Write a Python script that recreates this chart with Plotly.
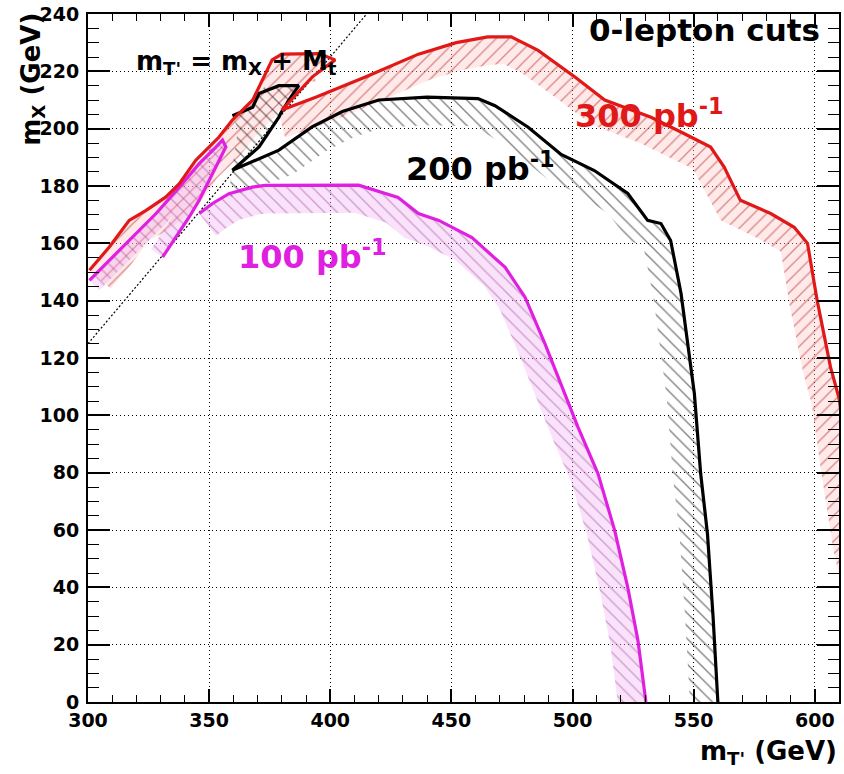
import numpy as np
import plotly.graph_objects as go

# ---------------- data ----------------
X_RANGE = [300, 610]
Y_RANGE = [0, 240]
X_DTICK, X_MINOR = 50, 10
Y_DTICK, Y_MINOR = 20, 5

# 300 pb^-1 (red) contour (continues just past the right frame)
red_x = [300.6, 308.8, 317, 324, 332.2, 337.7, 344.5, 354, 359.6, 368, 376, 380, 395.3, 402,
         392.5, 384, 380, 394, 414.5, 436.4, 452, 465, 474.7, 485.8, 501, 513.3, 532.4, 546,
         557, 562.6, 569.3, 581.8, 591.5, 597, 601, 606.5, 610, 614, 619, 627]
red_y = [150.6, 158.7, 168, 171.5, 176.2, 180.8, 189, 197, 203, 210, 224, 226, 226.2, 224,
         218, 210, 206.5, 211, 218, 226, 230, 232, 232, 227.3, 218, 210, 204, 198.3,
         193.6, 186.6, 175, 170.4, 165.6, 160, 140, 116.8, 106, 82, 55, 25]

# 200 pb^-1 (black) contour
blk_x = [359.6, 368, 370.6, 378.8, 387, 382.9, 379.5, 378.8, 370.6, 359.6, 378.8, 392.5, 405,
         420, 440, 461, 468, 481.7, 495.3, 509, 522.8, 531, 536.5, 540.5, 544.8, 550.3,
         552.9, 555.7, 558, 560]
blk_y = [204.5, 207.5, 212.3, 215, 215, 210, 205.3, 204, 193.6, 185.5, 192.5, 200.6, 206,
         210, 211, 210.5, 208, 200.5, 191, 185.4, 177.4, 168, 166.9, 161, 142.5, 107.6,
         79.7, 58.7, 30, 0]

# 100 pb^-1 (magenta) contour: loop along the diagonal, then the main arc
mag_loop_x = [300.6, 308.8, 318.4, 328.1, 337.7, 345.9, 352.8, 355.5, 356.9, 354.1, 350,
              345.9, 341.8, 336.3, 330.8]
mag_loop_y = [147.1, 154.1, 162.2, 170.4, 179.6, 187.8, 193.6, 196, 193.6, 189, 182,
              175, 169.2, 162.2, 155.2]
mag_arc_x = [345.9, 351.4, 358.2, 367.8, 373, 392, 411.7, 428, 436.4, 444.8, 458.5, 472.2,
             480.4, 488.6, 495.3, 502.3, 510.5, 517.4, 522.8, 527, 530.3]
mag_arc_y = [170.4, 173.9, 177.3, 179.6, 180.2, 180.3, 180.3, 176, 170.4, 168, 162, 151.6,
             141.2, 125, 111, 95.8, 79.7, 59.9, 40, 21.5, 0]

# kinematic line m_T' = m_X + M_t
M_TOP = 175.0
diag_x = [300, 415]

# ---------------- styling ----------------
RED = "#e01818"
BLACK = "#000000"
MAG = "#e020e0"
FONT = "DejaVu Sans"

L, R, T, B = 88, 3, 14, 72
W, H = 844, 774
PW, PH = W - L - R, H - T - B
sx = PW / (X_RANGE[1] - X_RANGE[0])
sy = PH / (Y_RANGE[1] - Y_RANGE[0])


def band(xs, ys, width_px):
    """Hatched band on the right-hand side of the contour (in screen space)."""
    px = (np.asarray(xs, float) - X_RANGE[0]) * sx
    py = (np.asarray(ys, float) - Y_RANGE[0]) * sy
    n = len(px)
    ox, oy = np.zeros(n), np.zeros(n)
    for i in range(n):
        a = max(i - 1, 0)
        b = min(i + 1, n - 1)
        tx, ty = px[b] - px[a], py[b] - py[a]
        nrm = np.hypot(tx, ty) or 1.0
        ox[i] = px[i] + ty / nrm * width_px
        oy[i] = py[i] - tx / nrm * width_px
    bx = np.concatenate([px, ox[::-1], px[:1]]) / sx + X_RANGE[0]
    by = np.concatenate([py, oy[::-1], py[:1]]) / sy + Y_RANGE[0]
    return bx, by


fig = go.Figure()


def add_band(xs, ys, w, shape, fg, bg, sol=0.14):
    bx, by = band(xs, ys, w)
    fig.add_trace(go.Scatter(
        x=bx, y=by, mode="lines", line=dict(width=0, color="rgba(0,0,0,0)"),
        fill="toself", fillcolor=bg,
        fillpattern=dict(shape=shape, fgcolor=fg, bgcolor=bg, size=9, solidity=sol),
        hoverinfo="skip", showlegend=False))


add_band(red_x, red_y, 28, "/", "#b02020", "rgba(255,190,190,0.35)")
add_band(blk_x, blk_y, 28, "\\", BLACK, "rgba(255,255,255,0)", 0.15)
add_band(mag_arc_x, mag_arc_y, 28, "\\", "#a050a0", "rgba(240,170,240,0.35)")
add_band(mag_loop_x, mag_loop_y, 14, "\\", "#a050a0", "rgba(240,170,240,0.35)")

fig.add_trace(go.Scatter(x=diag_x, y=[v - M_TOP for v in diag_x], mode="lines",
                         line=dict(color="black", width=1.2, dash="2px,2px"),
                         hoverinfo="skip", showlegend=False))

for xs, ys, col in [(mag_loop_x, mag_loop_y, MAG), (mag_arc_x, mag_arc_y, MAG),
                    (blk_x, blk_y, BLACK), (red_x, red_y, RED)]:
    fig.add_trace(go.Scatter(x=xs, y=ys, mode="lines",
                             line=dict(color=col, width=3.2),
                             hoverinfo="skip", showlegend=False))

tick_font = dict(family=FONT, size=19, color="black", weight="bold")

fig.update_xaxes(
    range=X_RANGE, tickmode="linear", tick0=X_RANGE[0], dtick=X_DTICK,
    ticks="inside", ticklen=13, tickwidth=1.5, tickcolor="black",
    minor=dict(dtick=X_MINOR, tick0=X_RANGE[0], ticklen=7, tickwidth=1.2,
               tickcolor="black", ticks="inside", showgrid=False),
    showline=True, linecolor="black", linewidth=2, mirror="allticks",
    showgrid=True, gridcolor="black", griddash="1px,3px", gridwidth=1,
    zeroline=False, tickfont=tick_font, layer="above traces")
fig.update_yaxes(
    range=Y_RANGE, tickmode="linear", tick0=Y_RANGE[0], dtick=Y_DTICK,
    ticks="inside", ticklen=22, tickwidth=1.5, tickcolor="black",
    minor=dict(dtick=Y_MINOR, tick0=Y_RANGE[0], ticklen=11, tickwidth=1.2,
               tickcolor="black", ticks="inside", showgrid=False),
    showline=True, linecolor="black", linewidth=2, mirror="allticks",
    showgrid=True, gridcolor="black", griddash="1px,3px", gridwidth=1,
    zeroline=False, tickfont=tick_font, ticklabelstandoff=3, layer="above traces")

ann_font = dict(family=FONT, weight="bold")
fig.add_annotation(x=603, y=234.3, xref="x", yref="y", text="0-lepton cuts",
                   showarrow=False, xanchor="right", yanchor="middle",
                   font=dict(size=31, color="black", **ann_font))
fig.add_annotation(x=500, y=205, xref="x", yref="y", text="300 pb<sup>-1</sup>",
                   showarrow=False, xanchor="left", yanchor="middle",
                   font=dict(size=32, color=RED, **ann_font))
fig.add_annotation(x=430.5, y=186.5, xref="x", yref="y", text="200 pb<sup>-1</sup>",
                   showarrow=False, xanchor="left", yanchor="middle",
                   font=dict(size=32, color=BLACK, **ann_font))
fig.add_annotation(x=361, y=156, xref="x", yref="y", text="100 pb<sup>-1</sup>",
                   showarrow=False, xanchor="left", yanchor="middle",
                   font=dict(size=32, color=MAG, **ann_font))
fig.add_annotation(x=319, y=223, xref="x", yref="y",
                   text="m<sub>T'</sub> = m<sub>X</sub> + M<sub>t</sub>",
                   showarrow=False, xanchor="left", yanchor="middle",
                   font=dict(size=26, color="black", **ann_font))
# axis titles
fig.add_annotation(x=-0.075, y=1.005, xref="paper", yref="paper",
                   text="m<sub>X</sub> (GeV)", textangle=-90,
                   showarrow=False, xanchor="center", yanchor="top",
                   font=dict(size=26, color="black", **ann_font))
fig.add_annotation(x=1.0, y=-0.1, xref="paper", yref="paper",
                   text="m<sub>T'</sub> (GeV)",
                   showarrow=False, xanchor="right", yanchor="bottom",
                   font=dict(size=26, color="black", **ann_font))

fig.update_layout(width=W, height=H, margin=dict(l=L, r=R, t=T, b=B),
                  plot_bgcolor="white", paper_bgcolor="white", showlegend=False)

fig.write_html("out.html")
